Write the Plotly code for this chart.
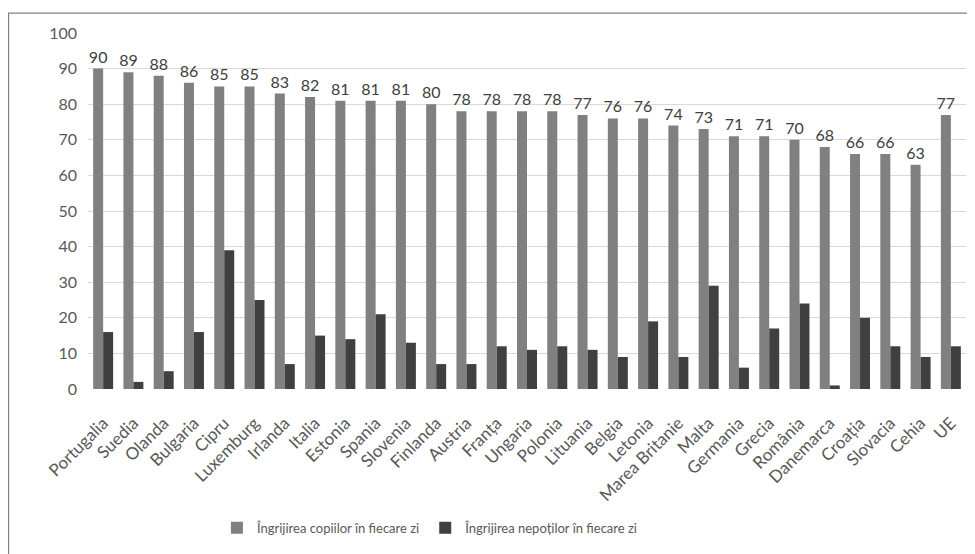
import plotly.graph_objects as go

countries = ["Portugalia", "Suedia", "Olanda", "Bulgaria", "Cipru", "Luxemburg", "Irlanda",
             "Italia", "Estonia", "Spania", "Slovenia", "Finlanda", "Austria", "Franța",
             "Ungaria", "Polonia", "Lituania", "Belgia", "Letonia", "Marea Britanie", "Malta",
             "Germania", "Grecia", "România", "Danemarca", "Croația", "Slovacia", "Cehia", "UE"]
copii = [90, 89, 88, 86, 85, 85, 83, 82, 81, 81, 81, 80, 78, 78, 78, 78, 77, 76, 76, 74, 73,
         71, 71, 70, 68, 66, 66, 63, 77]
nepoti = [16, 2, 5, 16, 39, 25, 7, 15, 14, 21, 13, 7, 7, 12, 11, 12, 11, 9, 19, 9, 29,
          6, 17, 24, 1, 20, 12, 9, 12]
series_names = ["Îngrijirea copiilor în fiecare zi", "Îngrijirea nepoților în fiecare zi"]
y_ticks = [0, 10, 20, 30, 40, 50, 60, 70, 80, 90, 100]

FONT = "Lato, Carlito, 'Open Sans', sans-serif"
TXT = "#595959"

fig = go.Figure()
fig.add_trace(go.Bar(x=countries, y=copii, name=series_names[0], marker_color="#808080",
                     marker_line_width=0, text=copii, textposition="outside",
                     constraintext="none",
                     textfont=dict(size=16, color="#404040", family=FONT), cliponaxis=False))
fig.add_trace(go.Bar(x=countries, y=nepoti, name=series_names[1], marker_color="#404040",
                     marker_line_width=0))

fig.update_layout(
    width=975, height=554,
    margin=dict(l=80, r=17, t=25, b=173, autoexpand=False),
    paper_bgcolor="white", plot_bgcolor="white",
    barmode="group", bargap=0.34, bargroupgap=0,
    font=dict(family=FONT, size=13, color=TXT),
    showlegend=True,
    legend=dict(orientation="h", x=0.39, y=-0.39, xanchor="center", yanchor="middle",
                font=dict(size=13, color=TXT), traceorder="normal"),
    xaxis=dict(tickangle=-45, tickfont=dict(size=17, color=TXT), showgrid=False,
               showline=False, ticks="", automargin=False, ticklabelstandoff=20),
    yaxis=dict(range=[0, 100], tickvals=y_ticks, showgrid=True, gridcolor="#d9d9d9",
               gridwidth=1, zeroline=False, showline=False, ticks="",
               tickfont=dict(size=16, color=TXT), ticklabelstandoff=10, automargin=False),
    shapes=[dict(type="rect", xref="paper", yref="paper",
                 x0=-0.0905, x1=1.1, y0=-0.6, y1=1.056,
                 line=dict(color="#808080", width=1.2),
                 fillcolor="rgba(0,0,0,0)", layer="below")],
)

fig.write_html("out.html")
